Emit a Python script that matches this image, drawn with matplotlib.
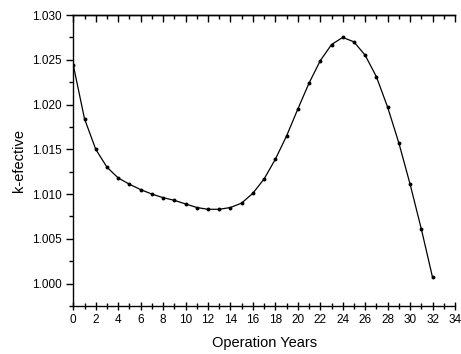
import matplotlib
matplotlib.use("Agg")
import matplotlib.pyplot as plt
from matplotlib.ticker import MultipleLocator, FormatStrFormatter

years = list(range(0, 33))
k_eff = [1.0244, 1.0184, 1.0150, 1.0130, 1.0118, 1.0111, 1.0105, 1.0100,
         1.0096, 1.0093, 1.0089, 1.0085, 1.0083, 1.0083, 1.0085, 1.0090,
         1.0101, 1.0117, 1.0139, 1.0165, 1.0195, 1.0224, 1.0249, 1.0267,
         1.0275, 1.0270, 1.0255, 1.0231, 1.0197, 1.0157, 1.0111, 1.0061,
         1.0007]

plt.rcParams["font.family"] = ["Liberation Sans", "DejaVu Sans"]

fig = plt.figure(figsize=(4.61, 3.54), dpi=100)
ax = fig.add_axes([0.159, 0.1356, 0.828, 0.822])

ax.plot(years, k_eff, color="black", linewidth=0.9, marker="o", markersize=1.8)

ax.set_xlim(0, 34)
ax.set_ylim(0.9975, 1.030)
ax.xaxis.set_major_locator(MultipleLocator(2))
ax.xaxis.set_minor_locator(MultipleLocator(1))
ax.yaxis.set_major_locator(MultipleLocator(0.005))
ax.yaxis.set_minor_locator(MultipleLocator(0.0025))
ax.yaxis.set_major_formatter(FormatStrFormatter("%.3f"))

ax.spines["right"].set_visible(False)
for s in ("left", "bottom", "top"):
    ax.spines[s].set_linewidth(1.0)

ax.tick_params(axis="x", which="both", direction="inout", labelsize=8.5, pad=3, top=False)
ax.tick_params(axis="x", which="major", length=6, width=1.0)
ax.tick_params(axis="x", which="minor", length=4, width=1.0)
ax.tick_params(axis="y", which="both", direction="out", labelsize=8.5, right=False)
ax.tick_params(axis="y", which="major", length=5, width=1.0)
ax.tick_params(axis="y", which="minor", length=3, width=1.0)

# top axis ticks pointing inward, no labels
top = ax.secondary_xaxis("top")
top.xaxis.set_major_locator(MultipleLocator(2))
top.xaxis.set_minor_locator(MultipleLocator(1))
top.tick_params(which="both", direction="in", labeltop=False, width=1.0)
top.tick_params(which="major", length=5)
top.tick_params(which="minor", length=3)
top.spines["top"].set_linewidth(1.0)

ax.set_xlabel("Operation Years", fontsize=10.5, labelpad=7)
ax.set_ylabel("k-efective", fontsize=10.5, labelpad=4)

fig.savefig("out.png", dpi=100)
